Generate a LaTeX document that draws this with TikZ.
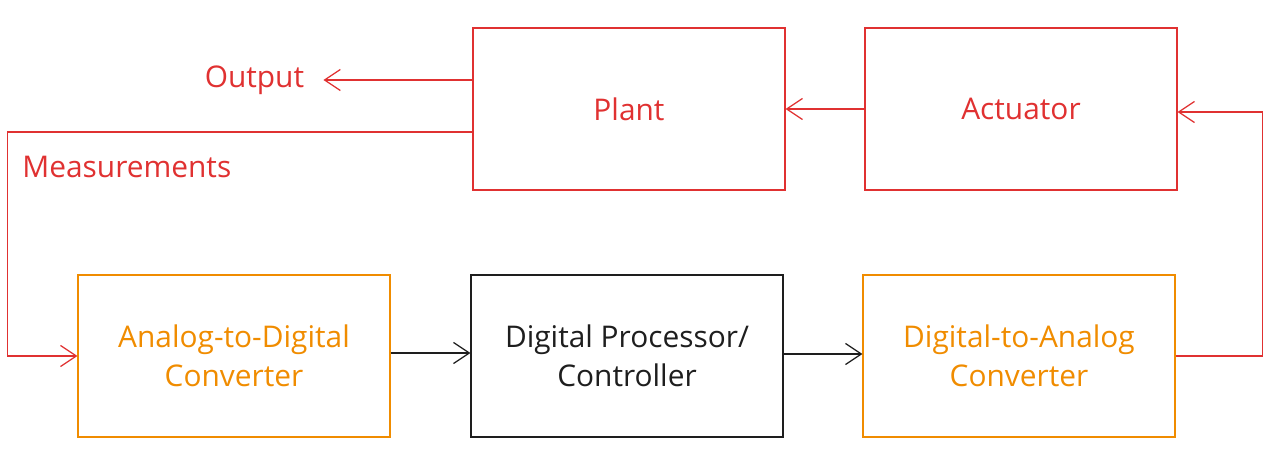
\documentclass[tikz,border=0pt]{standalone}
\usepackage{fontspec}
\setmainfont{Open Sans}
\usetikzlibrary{arrows.meta,positioning}
\definecolor{skred}{HTML}{E03131}
\definecolor{skorange}{HTML}{F08C00}
\definecolor{skblack}{HTML}{1E1E1E}
\tikzset{
  block/.style={draw,line width=0.7pt,minimum width=6.24cm,minimum height=3.24cm,
    align=center,font=\fontsize{17}{22}\selectfont},
  sarrow/.style={line width=0.7pt,-{Straight Barb[length=9pt,width=12pt,line width=0.7pt]}},
  lbl/.style={font=\fontsize{17}{22}\selectfont,inner sep=0pt}
}
\begin{document}
\begin{tikzpicture}[x=0.02cm,y=-0.02cm]
\useasboundingbox (0,0) rectangle (1275,451);
% top row
\node[block,skred] (plant) at (629,109) {Plant};
\node[block,skred] (actuator) at (1021,109) {Actuator};
% bottom row
\node[block,skorange] (adc) at (234,356) {Analog-to-Digital\\Converter};
\node[block,skblack] (proc) at (627,356) {Digital Processor/\\Controller};
\node[block,skorange] (dac) at (1019,356) {Digital-to-Analog\\Converter};
% labels
\node[lbl,skred,anchor=east] (output) at ([xshift=-3.36cm,yshift=0.58cm]plant.west) {Output};
\node[lbl,skred,anchor=west] (meas) at (22,167) {Measurements};
% connectors
\draw[sarrow,skred] ([yshift=0.58cm]plant.west) -- ([xshift=0.38cm]output.east);
\draw[sarrow,skred] ([yshift=-0.46cm]plant.west) -- ++(-465,0) |- (adc.west);
\draw[sarrow,skblack] ([yshift=0.06cm]adc.east) -- ([yshift=0.06cm]proc.west);
\draw[sarrow,skblack] ([yshift=0.04cm]proc.east) -- ([yshift=0.04cm]dac.east -| dac.west);
\draw[sarrow,skred] (dac.east) -- ++(87,0) |- ([yshift=-0.06cm]actuator.east);
\draw[sarrow,skred] (actuator.west) -- (plant.east);
\end{tikzpicture}
\end{document}
